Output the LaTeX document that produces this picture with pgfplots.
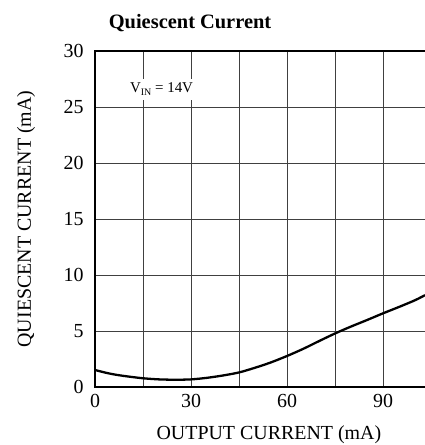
\documentclass[border=0pt]{standalone}
\usepackage{pgfplots}
\pgfplotsset{compat=1.18}
\usepackage{fontspec}
\setmainfont{Liberation Serif}
\begin{document}
\begin{tikzpicture}
\begin{axis}[
  scale only axis,
  width=330bp, height=336bp,
  xmin=0, xmax=103.1, ymin=0, ymax=30,
  axis line style={draw=none},
  xtick={0,30,60,90}, minor xtick={15,45,75},
  ytick={0,5,10,15,20,25,30},
  major tick length=0pt, minor tick length=0pt,
  grid=both,
  major grid style={draw=black!75, line width=0.8pt},
  minor grid style={draw=black!75, line width=0.8pt},
  /pgf/number format/assume math mode=true,
  tick label style={font=\fontsize{20}{24}\selectfont},
  yticklabel style={xshift=-8bp},
  xticklabel style={yshift=-4bp},
  clip mode=individual,
]
\addplot[black, line width=2.3pt, smooth] coordinates {
(0,1.52) (3,1.3) (6,1.12) (10,0.95) (15,0.78) (20,0.68) (25,0.65) (30,0.68)
(35,0.82) (40,1.03) (45,1.3) (50,1.72) (55,2.2) (60,2.77) (65,3.4) (70,4.1)
(75,4.78) (80,5.4) (85,5.98) (90,6.58) (95,7.15) (100,7.75) (103.1,8.2)
};
\draw[line width=2.4pt] (rel axis cs:1,1) -- (rel axis cs:0,1) -- (rel axis cs:0,0) -- (rel axis cs:1,0);
\node[fill=white, inner sep=4bp, font=\fontsize{15}{18}\selectfont] at (axis cs:20.8,26.6)
  {V\raisebox{-0.45ex}{\fontsize{10}{12}\selectfont IN} = 14V};
\coordinate (O) at (rel axis cs:0,0);
\coordinate (T) at (rel axis cs:1,1);
\node[anchor=base, font=\bfseries\fontsize{20.5}{24}\selectfont] at (axis description cs:0.288,1.0655) {Quiescent Current};
\node[anchor=base, font=\fontsize{20}{24}\selectfont] at (axis description cs:0.527,-0.1577) {OUTPUT CURRENT (mA)};
\node[anchor=base, rotate=90, font=\fontsize{20}{24}\selectfont] at (axis description cs:-0.194,0.5) {QUIESCENT CURRENT (mA)};
\end{axis}
\pgfresetboundingbox
\path[use as bounding box] ([xshift=-95bp,yshift=-58bp]O) rectangle ([yshift=51bp]T);
\end{tikzpicture}
\end{document}
